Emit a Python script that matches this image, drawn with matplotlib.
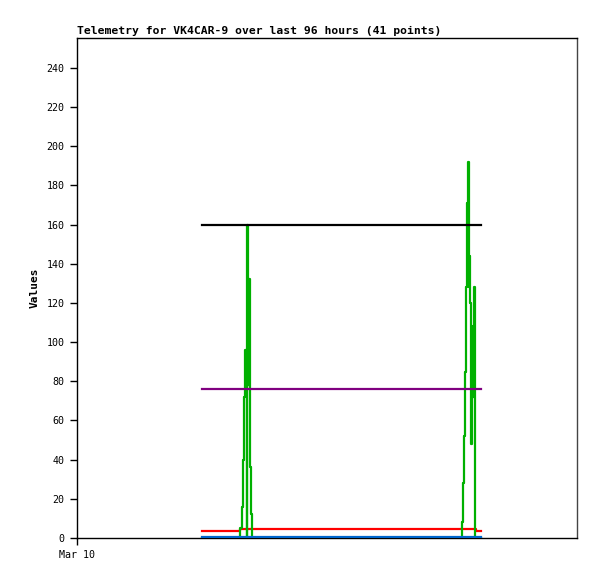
import matplotlib
matplotlib.use("Agg")
import matplotlib.pyplot as plt

# time axis in hours since Mar 10 00:00
x_max = 100.0
t_start = 25.0
t_end = 80.8

# green series (step, value holds from each time)
green_t = [25.0, 32.6, 32.9, 33.1, 33.26, 33.46, 33.66, 33.9, 34.0, 34.2, 34.34, 34.5, 34.6, 34.8, 35.0,
           76.94, 77.14, 77.34, 77.54, 77.74, 77.94, 78.14, 78.34, 78.46, 78.6, 78.8, 78.94, 79.06, 79.34, 79.54, 79.66, 80.8]
green_v = [0, 5, 16, 27, 40, 72, 96, 0, 160, 78, 132, 76, 36, 12, 0,
           8, 28, 52, 85, 128, 171, 192, 128, 144, 120, 48, 108, 72, 128, 64, 0, 0]

black_t = [t_start, t_end]
black_v = [160, 160]
purple_t = [t_start, t_end]
purple_v = [76.2, 76.2]
red_t = [t_start, 32.6, 79.8, t_end]
red_v = [3.6, 4.6, 3.6, 3.6]
blue_t = [t_start, t_end]
blue_v = [0.3, 0.3]

yticks = list(range(0, 241, 20))

fig = plt.figure(figsize=(5.97, 5.79), dpi=100)
ax = fig.add_axes([77/597, 41/579, 500/597, 500/579])

lw = 1.6
ax.plot(red_t, red_v, drawstyle="steps-post", color="#ff0000", lw=lw, zorder=2)
ax.plot(green_t, green_v, drawstyle="steps-post", color="#00b000", lw=lw, zorder=3)
ax.plot(blue_t, blue_v, drawstyle="steps-post", color="#0066cc", lw=lw, zorder=4)
ax.plot(purple_t, purple_v, color="#800080", lw=lw, zorder=5)
ax.plot(black_t, black_v, color="#000000", lw=lw, zorder=6)

ax.set_xlim(0, x_max)
ax.set_ylim(0, 255.3)
ax.set_yticks(yticks)
ax.set_yticklabels([str(v) for v in yticks], family="DejaVu Sans Mono", fontsize=7.2)
ax.set_xticks([0])
ax.set_xticklabels(["Mar 10"], family="DejaVu Sans Mono", fontsize=7.2)
ax.tick_params(axis="both", direction="out", length=5, width=1, pad=4, colors="black")

for s in ["left", "bottom", "top"]:
    ax.spines[s].set_color("black")
    ax.spines[s].set_linewidth(1)
ax.spines["right"].set_color("#444444")
ax.spines["right"].set_linewidth(1)

ax.set_ylabel("Values", family="DejaVu Sans Mono", fontsize=8, fontweight="bold", labelpad=5)
fig.text(77/597, 1 - 31/579, "Telemetry for VK4CAR-9 over last 96 hours (41 points)",
         family="DejaVu Sans Mono", fontsize=8.2, fontweight="bold", ha="left", va="center")

fig.savefig("out.png", dpi=100)
